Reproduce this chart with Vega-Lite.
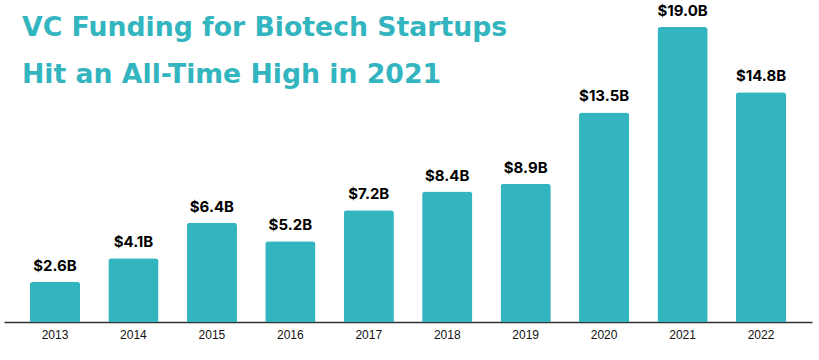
{
  "$schema": "https://vega.github.io/schema/vega-lite/v6.json",
  "width": 808,
  "height": 322,
  "autosize": {"type": "none"},
  "padding": {"left": 4, "top": 0, "right": 7, "bottom": 38},
  "background": "white",
  "config": {"view": {"stroke": null}},
  "title": {
    "text": ["VC Funding for Biotech Startups", "Hit an All-Time High in 2021"],
    "anchor": "start",
    "frame": "group",
    "orient": "top",
    "font": "DejaVu Sans",
    "fontSize": 26.7,
    "fontWeight": "bold",
    "color": "#33b5bf",
    "lineHeight": 47,
    "dx": 18,
    "dy": 89,
    "offset": 0
  },
  "data": {
    "values": [
      {"year": "2013", "value": 2.6, "label": "$2.6B"},
      {"year": "2014", "value": 4.1, "label": "$4.1B"},
      {"year": "2015", "value": 6.4, "label": "$6.4B"},
      {"year": "2016", "value": 5.2, "label": "$5.2B"},
      {"year": "2017", "value": 7.2, "label": "$7.2B"},
      {"year": "2018", "value": 8.4, "label": "$8.4B"},
      {"year": "2019", "value": 8.9, "label": "$8.9B"},
      {"year": "2020", "value": 13.5, "label": "$13.5B"},
      {"year": "2021", "value": 19.0, "label": "$19.0B"},
      {"year": "2022", "value": 14.8, "label": "$14.8B"}
    ]
  },
  "encoding": {
    "x": {
      "field": "year",
      "type": "ordinal",
      "scale": {"paddingInner": 0.36, "paddingOuter": 0.33},
      "axis": {
        "title": null,
        "labelAngle": 0,
        "ticks": false,
        "domainColor": "#333333",
        "domainWidth": 1.5,
        "labelFont": "Liberation Sans",
        "labelFontSize": 12,
        "labelColor": "#111111",
        "labelPadding": 7
      }
    },
    "y": {
      "field": "value",
      "type": "quantitative",
      "scale": {"domain": [0, 20.74], "nice": false},
      "axis": null
    }
  },
  "layer": [
    {"mark": {"type": "bar", "color": "#33b5bf", "cornerRadiusTopLeft": 3, "cornerRadiusTopRight": 3}},
    {
      "mark": {"type": "text", "dy": -8, "baseline": "bottom", "font": "Inter", "fontWeight": "bold", "fontSize": 15, "color": "#000000"},
      "encoding": {"text": {"field": "label"}}
    }
  ]
}
